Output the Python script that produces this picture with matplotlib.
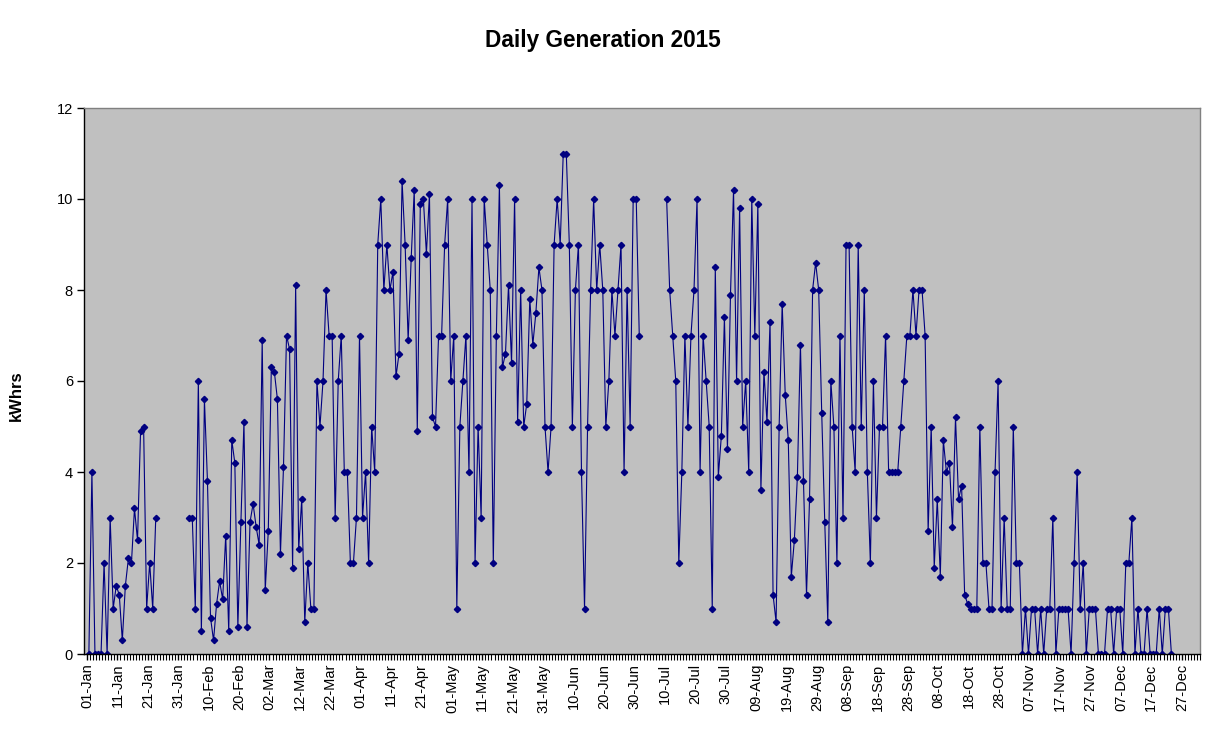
"""Daily solar generation for 2015, redrawn in the old Excel chart style."""

from datetime import date, timedelta

import matplotlib

matplotlib.use("Agg")
import matplotlib.pyplot as plt
import numpy as np

plt.rcParams["font.family"] = ["Liberation Sans", "DejaVu Sans"]

start_date = date(2015, 1, 1)
n_days = 365

# kWh per day, day 0 = 01-Jan; None = no reading
kwh_jan_feb = [
    0, 4, 0, 0, 0, 2, 0, 3, 1, 1.5, 1.3, 0.3, 1.5, 2.1, 2.0, 3.2, 2.5, 4.9, 5.0, 1.0,
    2.0, 1.0, 3.0, None, None, None, None, None, None, None, None, None, None, 3.0, 3.0,
    1.0, 6.0, 0.5, 5.6, 3.8, 0.8, 0.3, 1.1, 1.6, 1.2, 2.6, 0.5, 4.7, 4.2, 0.6, 2.9, 5.1,
    0.6, 2.9, 3.3, 2.8, 2.4, 6.9, 1.4,
]
kwh_mar_apr = [
    2.7, 6.3, 6.2, 5.6, 2.2, 4.1, 7.0, 6.7, 1.9, 8.1, 2.3, 3.4, 0.7, 2.0, 1.0, 1.0, 6.0,
    5.0, 6.0, 8.0, 7.0, 7.0, 3.0, 6.0, 7.0, 4.0, 4.0, 2.0, 2.0, 3.0, 7.0, 3.0, 4.0, 2.0,
    5.0, 4.0, 9.0, 10.0, 8.0, 9.0, 8.0, 8.4, 6.1, 6.6, 10.4, 9.0, 6.9, 8.7, 10.2, 4.9,
    9.9, 10.0, 8.8, 10.1, 5.2, 5.0, 7.0, 7.0, 9.0, 10.0, 6.0,
]
kwh_may_jun = [
    7.0, 1.0, 5.0, 6.0, 7.0, 4.0, 10.0, 2.0, 5.0, 3.0, 10.0, 9.0, 8.0, 2.0, 7.0, 10.3,
    6.3, 6.6, 8.1, 6.4, 10.0, 5.1, 8.0, 5.0, 5.5, 7.8, 6.8, 7.5, 8.5, 8.0, 5.0, 4.0, 5.0,
    9.0, 10.0, 9.0, 11.0, 11.0, 9.0, 5.0, 8.0, 9.0, 4.0, 1.0, 5.0, 8.0, 10.0, 8.0, 9.0,
    8.0, 5.0, 6.0, 8.0, 7.0, 8.0, 9.0, 4.0, 8.0, 5.0, 10.0, 10.0,
]
kwh_jul_aug = [
    7.0, None, None, None, None, None, None, None, None, 10, 8, 7, 6, 2, 4, 7, 5, 7, 8,
    10, 4, 7, 6, 5, 1, 8.5, 3.9, 4.8, 7.4, 4.5, 7.9, 10.2, 6, 9.8, 5, 6, 4, 10, 7, 9.9,
    3.6, 6.2, 5.1, 7.3, 1.3, 0.7, 5, 7.7, 5.7, 4.7, 1.7, 2.5, 3.9, 6.8, 3.8, 1.3, 3.4,
    8.0, 8.6, 8.0, 5.3, 2.9,
]
kwh_sep_oct = [
    0.7, 6.0, 5.0, 2.0, 7.0, 3.0, 9.0, 9.0, 5.0, 4.0, 9.0, 5.0, 8.0, 4.0, 2.0, 6.0, 3.0,
    5.0, 5.0, 7.0, 4.0, 4.0, 4.0, 4.0, 5.0, 6.0, 7.0, 7.0, 8.0, 7.0, 8.0, 8.0, 7.0, 2.7,
    5.0, 1.9, 3.4, 1.7, 4.7, 4.0, 4.2, 2.8, 5.2, 3.4, 3.7, 1.3, 1.1, 1.0, 1.0, 1.0, 5.0,
    2.0, 2.0, 1.0, 1.0, 4.0, 6.0, 1.0, 3.0, 1.0, 1.0,
]
kwh_nov_dec = [
    5.0, 2.0, 2.0, 0, 1, 0, 1, 1, 0, 1, 0, 1, 1, 3, 0, 1, 1, 1, 1, 0, 2, 4, 1, 2, 0, 1,
    1, 1, 0, 0, 0, 1, 1, 0, 1, 1, 0, 2, 2, 3, 0, 1, 0, 0, 1, 0, 0, 0, 1, 0, 1, 1, 0,
]

kwh = kwh_jan_feb + kwh_mar_apr + kwh_may_jun + kwh_jul_aug + kwh_sep_oct + kwh_nov_dec
values = np.array([np.nan if v is None else v for v in kwh], dtype=float)
days = np.arange(len(values)) + 0.6

tick_days = np.arange(0, n_days, 10)
tick_labels = [(start_date + timedelta(days=int(d))).strftime("%d-%b") for d in tick_days]

fig = plt.figure(figsize=(12.17, 7.44), dpi=100)
ax = fig.add_axes([84 / 1217, 90 / 744, 1116 / 1217, 546 / 744])
ax.set_facecolor("#c0c0c0")

ax.plot(days, values, color="#000080", linewidth=0.8, marker="D", markersize=3.2,
        markerfacecolor="#000080", markeredgecolor="#000080")

ax.set_xlim(-1, 366)
ax.set_ylim(0, 12)
ax.set_yticks(np.arange(0, 13, 2))
ax.set_xticks(tick_days)
ax.set_xticklabels(tick_labels, rotation=90)
ax.set_xticks(np.arange(0, 367), minor=True)

ax.tick_params(axis="y", direction="out", length=5, width=1, labelsize=10.5, pad=3)
ax.tick_params(axis="x", which="major", direction="out", length=4, width=1, labelsize=10.5, pad=3)
ax.tick_params(axis="x", which="minor", direction="out", length=4, width=0.8)

for side in ("top", "right"):
    ax.spines[side].set_color("#808080")
    ax.spines[side].set_linewidth(1)
for side in ("left", "bottom"):
    ax.spines[side].set_color("black")
    ax.spines[side].set_linewidth(1)

ax.set_ylabel("kWhrs", fontsize=12, fontweight="bold")
ax.yaxis.set_label_coords(-0.0535, 0.4725)
fig.text(0.495, 1 - 41 / 744, "Daily Generation 2015", ha="center", va="center",
         fontsize=16.3, fontweight="bold")

fig.savefig("out.png", dpi=100, facecolor="white")
